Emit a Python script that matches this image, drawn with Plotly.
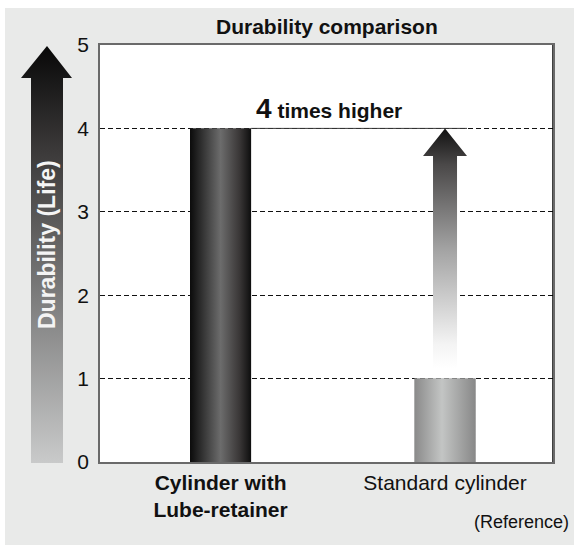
import plotly.graph_objects as go

# ---- data ----
categories = ["Cylinder with<br>Lube-retainer", "Standard cylinder"]
durability = [4, 1]
y_ticks = [0, 1, 2, 3, 4, 5]
title_text = "Durability comparison"
ratio_label = "times higher"
axis_title = "Durability (Life)"
note_text = "(Reference)"

W, H = 574, 545
FONT = "Liberation Sans, Arial, Helvetica, sans-serif"

# main plot area in pixels
PL, PR, PT, PB = 100, 553, 45, 462
xpos = [0, 1]
x_range = [-0.537, 1.481]
bar_w = 0.272

fig = go.Figure()

# ---------- decoration layer (pixel-space axes, full figure) ----------
ax_pts_x = [31, 31, 21, 47, 72, 63, 63, 31]
ax_pts_y = [463, 78, 78, 46, 78, 78, 463, 463]
fig.add_trace(go.Scatter(
    x=ax_pts_x, y=ax_pts_y, xaxis="x", yaxis="y", mode="lines",
    line=dict(width=0), fill="toself", hoverinfo="skip", showlegend=False,
    fillgradient=dict(type="vertical", start=46, stop=463,
                      colorscale=[[0, "#080808"], [0.25, "#3b3939"],
                                  [0.6, "#7c7c7c"], [1, "#c9caca"]]),
))

# ---------- main chart ----------
bar_colors = ["#3a3a3a", "#a8a8a8"]
fig.add_trace(go.Bar(
    x=xpos, y=durability, width=bar_w, xaxis="x2", yaxis="y2",
    marker=dict(color=bar_colors, line=dict(width=0)),
    hoverinfo="skip", showlegend=False,
))

grads = [
    [[0, "#0b0b0b"], [0.5, "#6c6c6c"], [0.82, "#383535"], [1, "#0e0e0e"]],
    [[0, "#8a8a8a"], [0.45, "#c3c5c4"], [1, "#888888"]],
]
for xc, v, g in zip(xpos, durability, grads):
    x0, x1 = xc - bar_w / 2, xc + bar_w / 2
    fig.add_trace(go.Scatter(
        x=[x0, x0, x1, x1, x0], y=[0, v, v, 0, 0], xaxis="x2", yaxis="y2",
        mode="lines", line=dict(width=0), fill="toself",
        hoverinfo="skip", showlegend=False,
        fillgradient=dict(type="horizontal", colorscale=g),
    ))

# arrow on the standard cylinder showing growth from its value to the top value
top_v, low_v = durability[0], durability[1]
cx = xpos[1]
sh, hh = 0.0535, 0.098
head_base = top_v - 0.33
tail = low_v + 0.12
fig.add_trace(go.Scatter(
    x=[cx - sh, cx - sh, cx - hh, cx, cx + hh, cx + sh, cx + sh, cx - sh],
    y=[tail, head_base, head_base, top_v, head_base, head_base, tail, tail],
    xaxis="x2", yaxis="y2", mode="lines", line=dict(width=0), fill="toself",
    hoverinfo="skip", showlegend=False,
    fillgradient=dict(type="vertical", start=tail, stop=top_v,
                      colorscale=[[0, "#ffffff"], [0.1, "#f4f4f4"],
                                  [0.5, "#a2a2a2"], [0.85, "#4a4848"], [1, "#111111"]]),
))

# solid reference line at the top value
fig.add_trace(go.Scatter(
    x=[xpos[0] + bar_w / 2, cx + hh], y=[top_v, top_v], xaxis="x2", yaxis="y2",
    mode="lines", line=dict(color="#3a3a3a", width=1),
    hoverinfo="skip", showlegend=False,
))

shapes = [
    dict(type="rect", xref="x", yref="y", x0=5, x1=W, y0=8, y1=H,
         fillcolor="#e9eae9", line=dict(width=0), layer="below"),
    dict(type="rect", xref="x2", yref="y2", x0=x_range[0], x1=x_range[1], y0=0, y1=5,
         fillcolor="#ffffff", line=dict(width=0), layer="below"),
    dict(type="line", xref="x2", yref="y2", x0=x_range[1], x1=x_range[1], y0=0, y1=5,
         line=dict(color="#000000", width=1.5), layer="above"),
]

annotations = [
    dict(xref="x", yref="y", x=327, y=26, text=f"<b>{title_text}</b>", showarrow=False,
         font=dict(size=21, color="#111111", family=FONT)),
    dict(xref="x", yref="y", x=47, y=245, text=f"<b>{axis_title}</b>", showarrow=False,
         textangle=-90, font=dict(size=23, color="#f4f4f4", family=FONT)),
    dict(xref="x", yref="y", x=571, y=522, text=note_text, showarrow=False,
         xanchor="right", font=dict(size=18, color="#111111", family=FONT)),
    dict(xref="x2", yref="y2", x=0.483, y=4.235,
         text=f"<b><span style='font-size:28px'>{top_v // low_v}</span> {ratio_label}</b>",
         showarrow=False, font=dict(size=21, color="#111111", family=FONT)),
]

ticktext = ["<b>" + categories[0] + "</b>", categories[1]]

fig.update_layout(
    width=W, height=H, autosize=False,
    margin=dict(l=0, r=0, t=0, b=0, pad=0, autoexpand=False),
    paper_bgcolor="#ffffff", plot_bgcolor="#ffffff",
    showlegend=False,
    font=dict(family=FONT, color="#111111", size=21),
    xaxis=dict(domain=[0, 1], range=[0, W], visible=False, fixedrange=True,
               automargin=False),
    yaxis=dict(domain=[0, 1], range=[H, 0], visible=False, fixedrange=True,
               automargin=False),
    xaxis2=dict(domain=[PL / W, PR / W], range=x_range, anchor="y2",
                tickvals=xpos, ticktext=ticktext, showgrid=False, zeroline=False,
                showline=True, mirror=True, linecolor="#6a6a6a", linewidth=1.5,
                ticks="", ticklabelstandoff=1, tickfont=dict(size=21, color="#111111"),
                fixedrange=True, automargin=False),
    yaxis2=dict(domain=[(H - PB) / H, (H - PT) / H], range=[0, 5], anchor="x2",
                tickvals=y_ticks, showgrid=True, gridcolor="#111111", gridwidth=1,
                griddash="5px,3px", zeroline=False, showline=True, mirror=True,
                linecolor="#6a6a6a", linewidth=1.5, ticks="", ticklabelstandoff=5,
                tickfont=dict(size=21, color="#111111"), fixedrange=True,
                automargin=False),
    shapes=shapes,
    annotations=annotations,
)

fig.write_html(
    "out.html",
    config={"displayModeBar": False, "responsive": False},
    post_script=(
        "document.documentElement.style.margin='0';"
        "document.body.style.margin='0';document.body.style.padding='0';"
        "document.body.style.overflow='hidden';"
        "var d=document.getElementById('{plot_id}');"
        "d.style.position='absolute';d.style.top='0px';d.style.left='0px';"
    ),
)
